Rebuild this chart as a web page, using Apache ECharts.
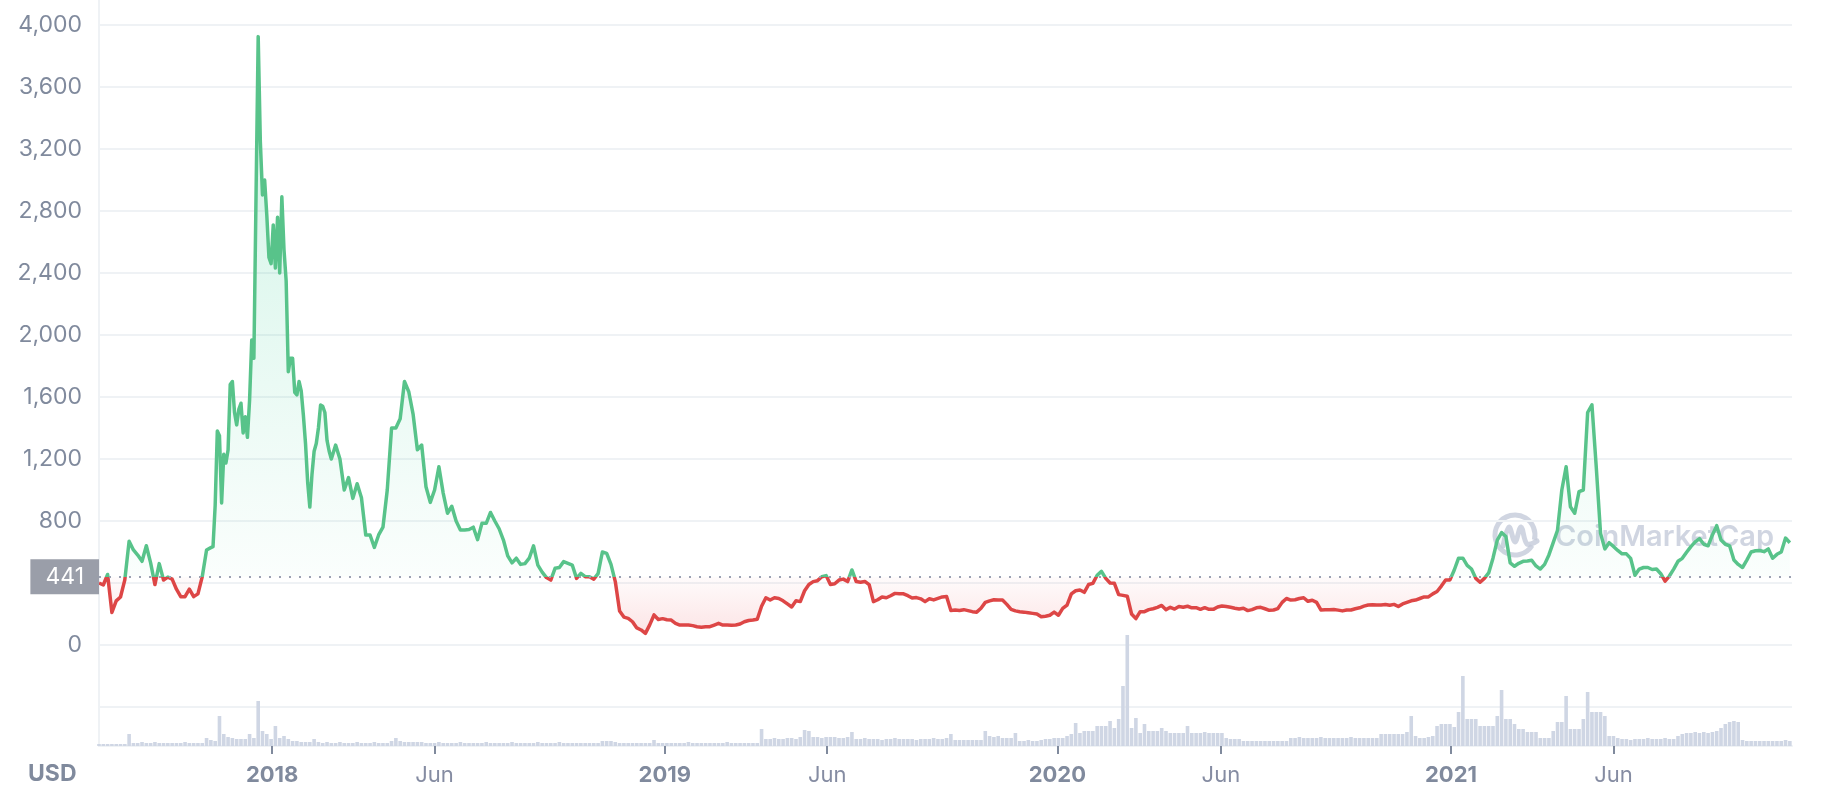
<!DOCTYPE html>
<html><head><meta charset="utf-8">
<script src="https://cdn.jsdelivr.net/npm/echarts@6/dist/echarts.min.js"></script>
<style>html,body{margin:0;padding:0;background:#fff}#c{width:1836px;height:800px}</style>
</head><body><div id="c"></div>
<script>
const axisStart = '2017-07-24';
const axisEnd = '2021-11-14';
const baseline = 441;
const yMin = -400, yMax = 4000, yStep = 400;
const tickDates = ['2018-01-01','2018-06-01','2019-01-01','2019-06-01','2020-01-01','2020-06-01','2021-01-01','2021-06-01'];
const tickLabels = ['2018','Jun','2019','Jun','2020','Jun','2021','Jun'];

// price, segment A: every 4 days from 2017-07-24
const priceAStart = '2017-07-24', priceAStep = 4;
const priceA = [
400,387,455,210,285,310,420,670,613,580,
540,640,530,390,525,419,438,425,360,312,
312,360,312,330,441,613
];
// price, segment B (the 2018 spike, finer): every 2 days from 2017-11-05
const priceBStart = '2017-11-05', priceBStep = 2;
const priceB = [
628,634,900,1380,1350,916,1230,1174,1258,1680,
1700,1500,1420,1520,1560,1368,1473,1340,1580,1968,
1850,2900,3925,3247,2903,3000,2774,2500,2460,2710,
2432,2760,2400,2892,2550,2350,1763,1850,1850,1630,
1613,1700,1640,1484,1300,1050,890,1100,1250,1300,
1400,1548,1540,1500,1320,1250,1200
];
// price, segment C: every 4 days from 2018-03-01
const priceCStart = '2018-03-01', priceCStep = 4;
const priceC = [
1290,1200,1000,1080,946,
1040,950,710,710,630,710,760,1000,1400,1400,
1460,1700,1634,1490,1260,1290,1021,920,1000,1150,
980,850,895,800,742,742,745,760,680,785,
785,855,800,750,677,575,530,560,520,525,
560,640,515,470,435,419,495,500,538,527,
516,430,462,441,440,425,460,600,591,520,
409,220,180,172,150,110,97,75,130,194,
165,170,163,161,140,129,129,129,125,118,
115,118,118,129,140,129,129,127,129,135,
150,158,161,166,250,305,290,305,300,285,
265,245,285,280,350,390,409,415,440,448,
390,395,419,425,409,484,409,405,410,390,
280,292,310,305,318,333,330,330,318,303,
306,298,280,298,291,301,310,313,223,226,
223,228,222,215,212,237,275,285,292,290,
290,262,230,220,215,212,208,204,200,182,
186,192,212,192,236,258,330,350,355,340,
390,398,450,475,430,400,398,325,320,315,
200,170,215,215,228,234,243,255,228,243,
232,248,244,250,240,241,230,241,230,230,
245,252,248,243,237,232,237,222,228,240,
243,234,224,226,235,275,300,290,292,300,
305,282,289,275,226,228,228,229,225,220,
226,226,234,240,251,258,260,258,258,261,
256,262,248,265,275,285,290,300,310,310,
330,345,380,420,420,484,560,560,514,490,
430,405,430,465,560,677,725,700,530,508,
527,540,542,547,510,490,520,581,660,740,
1000,1150,892,850,990,1000,1500,1550,1150,720,
620,660,636,610,588,588,559,450,490,500,
500,487,490,460,412,445,490,540,559,598,
635,665,686,650,640,710,770,677,650,640,
548,520,500,548,600,608,610,602,620,560,
585,600,690,660
];

// volume: every 4 days from 2017-07-24
const volumeStart = '2017-07-24', volumeStep = 4;
const volume = [
2,2,2,2,2,2,2,12,3,3,
4,3,3,4,3,3,3,3,3,3,
4,3,3,3,3,8,6,5,30,12,
9,8,7,7,7,12,8,45,15,12,
7,20,8,10,7,5,5,4,4,4,
7,4,3,4,3,3,4,3,3,3,
4,3,3,3,4,3,3,3,5,8,
5,4,4,4,4,4,3,3,3,4,
3,3,3,3,4,3,3,3,3,3,
4,3,3,3,3,3,4,3,3,3,
3,3,4,3,3,3,3,4,3,3,
3,3,3,3,3,3,3,5,5,5,
4,3,3,3,3,3,3,3,3,6,
3,3,3,3,3,3,3,4,3,3,
3,3,3,3,3,3,4,3,3,3,
3,3,3,3,17,7,7,8,7,7,
8,8,7,9,16,15,9,9,8,9,
9,9,8,8,9,14,7,7,8,7,
7,7,6,7,7,8,7,7,7,7,
6,7,7,7,8,7,7,8,12,6,
6,6,6,6,6,6,15,10,9,10,
8,8,8,13,5,5,6,5,5,6,
7,7,8,8,8,10,12,23,13,15,
15,15,20,20,20,25,18,27,60,111,
18,28,13,22,15,15,15,18,15,13,
13,13,13,20,13,13,13,14,13,13,
13,13,8,7,7,7,5,5,5,5,
5,5,5,5,5,5,5,8,8,9,
8,8,8,8,9,8,8,8,8,8,
8,9,8,8,8,8,8,8,12,12,
12,12,12,12,14,30,10,8,8,9,
10,20,22,22,22,19,34,70,27,27,
27,20,20,20,20,30,56,27,27,22,
17,17,14,14,14,8,8,8,15,24,
24,50,17,17,17,27,54,34,34,34,
30,10,10,8,7,7,6,7,7,7,
8,7,7,7,8,7,7,10,12,13,
13,14,13,14,13,14,15,18,22,24,
25,24,6,5,5,5,5,5,5,5,
5,5,6,5
];

function ts(s){ const p = s.split('-').map(Number); return Date.UTC(p[0], p[1]-1, p[2]); }
const DAY = 86400000;
function seg(start, step, vals){ const t = ts(start); return vals.map((v, i) => [t + i * step * DAY, v]); }
const priceData = [].concat(seg(priceAStart, priceAStep, priceA), seg(priceBStart, priceBStep, priceB), seg(priceCStart, priceCStep, priceC));
const volumeData = seg(volumeStart, volumeStep, volume);
const tickTs = tickDates.map(ts);

const chart = echarts.init(document.getElementById('c'), null, {renderer: 'canvas'});
const gridTop = 25, gridBottomY = 707;
const baseY = gridTop + (yMax - baseline) / (yMax - yMin) * (gridBottomY - gridTop);
const zeroY = gridTop + (yMax - 0) / (yMax - yMin) * (gridBottomY - gridTop);
const bOff = (baseY - gridTop) / (zeroY - gridTop);
const areaGrad = new echarts.graphic.LinearGradient(0, gridTop, 0, zeroY, [
  {offset: 0, color: 'rgba(22,199,132,0.22)'},
  {offset: bOff - 0.001, color: 'rgba(22,199,132,0.02)'},
  {offset: bOff + 0.001, color: 'rgba(234,57,67,0.02)'},
  {offset: 1, color: 'rgba(234,57,67,0.16)'}
], true);

const gray = '#808a9d';
const option = {
  animation: false,
  backgroundColor: '#ffffff',
  textStyle: {fontFamily: 'Inter'},
  grid: [
    {left: 99, right: 44, top: gridTop, height: gridBottomY - gridTop, outerBoundsMode: 'none'},
    {left: 99, right: 44, top: 626, height: 120, outerBoundsMode: 'none'}
  ],
  xAxis: [
    {type: 'value', gridIndex: 0, min: ts(axisStart), max: ts(axisEnd), show: false, splitLine: {show: false}},
    {type: 'value', gridIndex: 1, min: ts(axisStart), max: ts(axisEnd),
     axisLine: {show: true, onZero: false, lineStyle: {color: '#eff2f5', width: 2}},
     axisTick: {show: true, customValues: tickTs, length: 8, lineStyle: {color: gray, width: 2}},
     splitLine: {show: false},
     axisLabel: {customValues: tickTs, margin: 18, hideOverlap: false,
       formatter: function (v) {
         const k = tickTs.indexOf(v);
         const lab = k >= 0 ? tickLabels[k] : '';
         return /^\d+$/.test(lab) ? '{y|' + lab + '}' : '{m|' + lab + '}';
       },
       rich: {
         y: {fontWeight: 'bold', fontSize: 22, color: gray, fontFamily: 'Inter'},
         m: {fontSize: 22, color: '#858ca2', fontFamily: 'Inter'}
       }}
    }
  ],
  yAxis: [
    {type: 'value', gridIndex: 0, min: yMin, max: yMax, interval: yStep,
     axisLine: {show: false}, axisTick: {show: false},
     splitLine: {show: true, lineStyle: {color: '#eff2f5', width: 2}},
     axisLabel: {margin: 17, color: gray, fontSize: 23, fontFamily: 'Inter',
       formatter: v => v < 0 ? '' : v.toLocaleString('en-US')}},
    {type: 'value', gridIndex: 1, min: 0, max: 120, show: false, splitLine: {show: false}}
  ],
  visualMap: {
    show: false, type: 'piecewise', seriesIndex: 0, dimension: 1,
    pieces: [{gt: baseline, lte: yMax, color: '#58c38a'}, {gte: yMin, lte: baseline, color: '#dd4646'}],
    outOfRange: {color: '#58c38a'}
  },
  series: [
    {
      type: 'line', xAxisIndex: 0, yAxisIndex: 0, z: 3,
      data: priceData,
      showSymbol: false, symbol: 'none',
      lineStyle: {width: 3.5, join: 'round'},
      areaStyle: {origin: baseline, color: areaGrad, opacity: 1},
      markLine: {
        silent: true, symbol: 'none', animation: false,
        lineStyle: {color: '#9ba1b3', type: [2, 8], width: 2},
        label: {show: true, position: 'start', distance: 0, formatter: String(baseline),
          color: '#ffffff', backgroundColor: '#9a9ea9', fontSize: 23, fontFamily: 'Inter',
          padding: [6, 15, 6, 15]},
        emphasis: {disabled: true},
        data: [{yAxis: baseline}]
      }
    },
    {
      type: 'bar', xAxisIndex: 1, yAxisIndex: 1, z: 2,
      data: volumeData,
      barWidth: 3.6, itemStyle: {color: '#cfd6e4'}
    }
  ],
  graphic: [
    {type: 'line', z: 0, shape: {x1: 99, y1: 0, x2: 99, y2: 747}, style: {stroke: '#eff2f5', lineWidth: 2}},
    {type: 'text', left: 28, top: 763, style: {text: 'USD', font: 'bold 23px Inter', fill: gray}},
    {type: 'group', z: 100, children: [
      {type: 'arc', shape: {cx: 1515, cy: 535, r: 20, startAngle: 0.55, endAngle: 0.25 + Math.PI * 2, clockwise: true},
       style: {stroke: 'rgba(196,203,218,0.8)', lineWidth: 5, fill: null}},
      {type: 'polyline', shape: {points: [[1503, 546], [1509, 527], [1515, 542], [1521, 527], [1527, 544], [1537, 541]], smooth: 0.35},
       style: {stroke: 'rgba(196,203,218,0.8)', lineWidth: 5, fill: null, lineCap: 'round', lineJoin: 'round'}},
      {type: 'text', x: 1555, y: 537, style: {text: 'CoinMarketCap', font: '600 29px Inter', fill: 'rgba(196,203,218,0.8)', verticalAlign: 'middle'}}
    ]}
  ]
};
chart.setOption(option);
</script>
</body></html>
